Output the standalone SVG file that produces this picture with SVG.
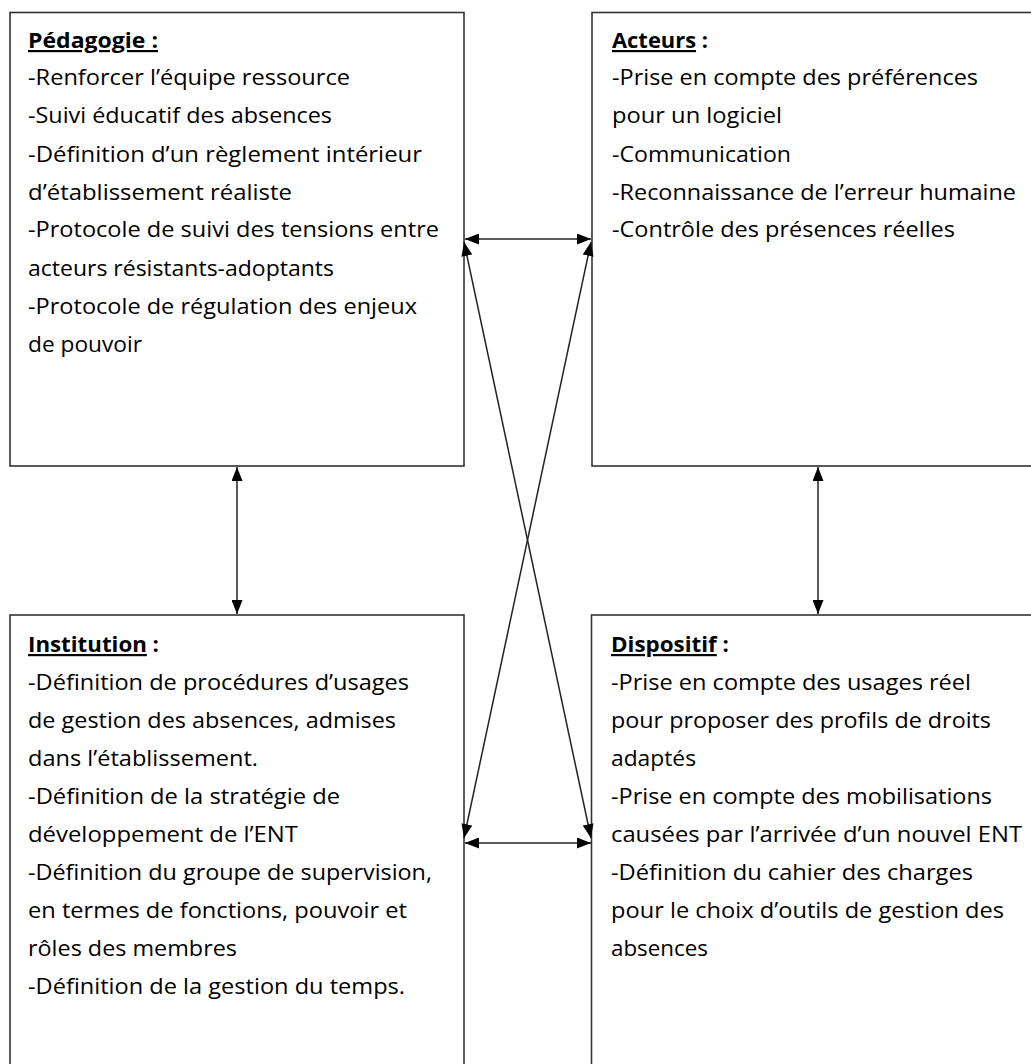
<svg xmlns="http://www.w3.org/2000/svg" width="1031" height="1064" viewBox="0 0 1031 1064">
<style>
.box{fill:#fff;stroke:#333;stroke-width:1.6}
.t{font-family:"Open Sans","Liberation Sans",sans-serif;font-size:22px;fill:#000}
.h{font-weight:bold}
.u{text-decoration:underline}
.c{stroke:#222;stroke-width:1.5;fill:none;marker-start:url(#arr);marker-end:url(#arr)}
</style>
<defs>
<marker id="arr" viewBox="0 0 14 11" refX="14" refY="5.5" markerWidth="14" markerHeight="11" markerUnits="userSpaceOnUse" orient="auto-start-reverse">
<path d="M0,0 L14,5.5 L0,11 z" fill="#000"/>
</marker>
</defs>
<rect width="1031" height="1064" fill="#fff"/>
<g id="pedagogie">
<rect class="box" x="10" y="12.5" width="454" height="453.5"/>
<text class="t h u" x="28" y="48" textLength="130" lengthAdjust="spacingAndGlyphs">Pédagogie :</text>
<text class="t" x="28" y="85" textLength="322" lengthAdjust="spacingAndGlyphs">-Renforcer l’équipe ressource</text>
<text class="t" x="28" y="123" textLength="304" lengthAdjust="spacingAndGlyphs">-Suivi éducatif des absences</text>
<text class="t" x="28" y="162" textLength="394" lengthAdjust="spacingAndGlyphs">-Définition d’un règlement intérieur</text>
<text class="t" x="28" y="200" textLength="264" lengthAdjust="spacingAndGlyphs">d’établissement réaliste</text>
<text class="t" x="28" y="237" textLength="411" lengthAdjust="spacingAndGlyphs">-Protocole de suivi des tensions entre</text>
<text class="t" x="28" y="276" textLength="306" lengthAdjust="spacingAndGlyphs">acteurs résistants-adoptants</text>
<text class="t" x="28" y="314" textLength="389" lengthAdjust="spacingAndGlyphs">-Protocole de régulation des enjeux</text>
<text class="t" x="28" y="352" textLength="114" lengthAdjust="spacingAndGlyphs">de pouvoir</text>
</g>
<g id="acteurs">
<rect class="box" x="592" y="12.5" width="460" height="453.5"/>
<text class="t h" x="612" y="48" textLength="96" lengthAdjust="spacingAndGlyphs"><tspan class="u">Acteurs</tspan> :</text>
<text class="t" x="612" y="85" textLength="366" lengthAdjust="spacingAndGlyphs">-Prise en compte des préférences</text>
<text class="t" x="612" y="123" textLength="170" lengthAdjust="spacingAndGlyphs">pour un logiciel</text>
<text class="t" x="612" y="162" textLength="179" lengthAdjust="spacingAndGlyphs">-Communication</text>
<text class="t" x="612" y="200" textLength="404" lengthAdjust="spacingAndGlyphs">-Reconnaissance de l’erreur humaine</text>
<text class="t" x="612" y="237" textLength="343" lengthAdjust="spacingAndGlyphs">-Contrôle des présences réelles</text>
</g>
<g id="institution">
<rect class="box" x="10" y="615" width="454" height="470"/>
<text class="t h" x="28" y="652" textLength="131" lengthAdjust="spacingAndGlyphs"><tspan class="u">Institution</tspan> :</text>
<text class="t" x="28" y="690" textLength="381" lengthAdjust="spacingAndGlyphs">-Définition de procédures d’usages</text>
<text class="t" x="28" y="728" textLength="368" lengthAdjust="spacingAndGlyphs">de gestion des absences, admises</text>
<text class="t" x="28" y="766" textLength="230" lengthAdjust="spacingAndGlyphs">dans l’établissement.</text>
<text class="t" x="28" y="804" textLength="312" lengthAdjust="spacingAndGlyphs">-Définition de la stratégie de</text>
<text class="t" x="28" y="842" textLength="270" lengthAdjust="spacingAndGlyphs">développement  de l’ENT</text>
<text class="t" x="28" y="880" textLength="404" lengthAdjust="spacingAndGlyphs">-Définition du groupe de supervision,</text>
<text class="t" x="28" y="918" textLength="379" lengthAdjust="spacingAndGlyphs">en termes de fonctions, pouvoir et</text>
<text class="t" x="28" y="956" textLength="209" lengthAdjust="spacingAndGlyphs">rôles des membres</text>
<text class="t" x="28" y="994" textLength="377" lengthAdjust="spacingAndGlyphs">-Définition de la gestion du temps.</text>
</g>
<g id="dispositif">
<rect class="box" x="591.5" y="615" width="460" height="470"/>
<text class="t h" x="611" y="652" textLength="118" lengthAdjust="spacingAndGlyphs"><tspan class="u">Dispositif</tspan> :</text>
<text class="t" x="611" y="690" textLength="360" lengthAdjust="spacingAndGlyphs">-Prise en compte des usages réel</text>
<text class="t" x="611" y="728" textLength="380" lengthAdjust="spacingAndGlyphs">pour proposer des profils de droits</text>
<text class="t" x="611" y="766" textLength="85" lengthAdjust="spacingAndGlyphs">adaptés</text>
<text class="t" x="611" y="804" textLength="381" lengthAdjust="spacingAndGlyphs">-Prise en compte des mobilisations</text>
<text class="t" x="611" y="842" textLength="411" lengthAdjust="spacingAndGlyphs">causées par l’arrivée d’un nouvel ENT</text>
<text class="t" x="611" y="880" textLength="362" lengthAdjust="spacingAndGlyphs">-Définition du cahier des charges</text>
<text class="t" x="611" y="918" textLength="393" lengthAdjust="spacingAndGlyphs">pour le choix d’outils de gestion des</text>
<text class="t" x="611" y="956" textLength="97" lengthAdjust="spacingAndGlyphs">absences</text>
</g>
<g id="connectors">
<line class="c" x1="237" y1="467" x2="237" y2="614"/>
<line class="c" x1="818" y1="467" x2="818" y2="614"/>
<line class="c" x1="465" y1="239" x2="591" y2="239"/>
<line class="c" x1="465" y1="843" x2="591" y2="843"/>
<line class="c" x1="464" y1="242" x2="591" y2="838"/>
<line class="c" x1="591" y1="242" x2="464" y2="838"/>
</g>
</svg>
